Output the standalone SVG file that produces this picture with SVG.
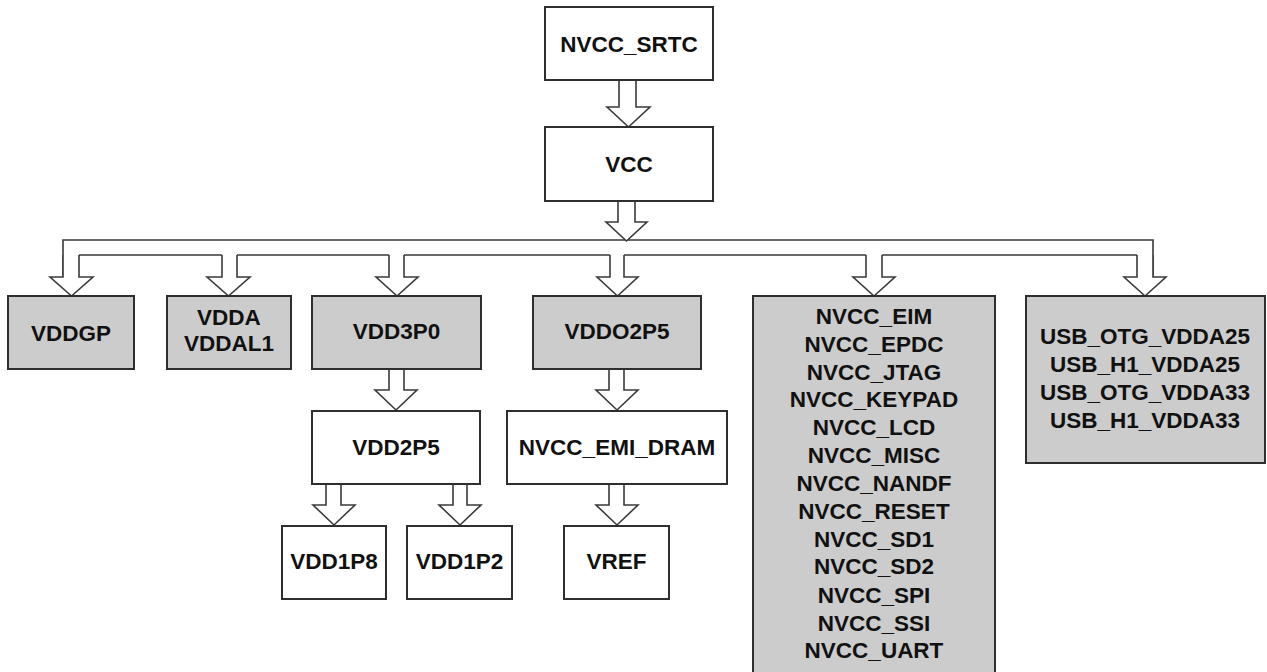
<svg xmlns="http://www.w3.org/2000/svg" width="1267" height="672" viewBox="0 0 1267 672">
<style>
.box{fill:#ffffff;stroke:#2e2e2e;stroke-width:2}
.gbox{fill:#cccccc;stroke:#2e2e2e;stroke-width:2}
.arr{fill:#ffffff;stroke:#3a3a3a;stroke-width:1.6;stroke-linejoin:miter}
.line{fill:none;stroke:#3a3a3a;stroke-width:1.6}
text{font-family:"Liberation Sans",Arial,sans-serif;font-weight:bold;font-size:22.5px;fill:#111;text-anchor:middle}
</style>
<rect width="1267" height="672" fill="#ffffff"/>
<g id="connectors">
<path class="arr" d="M63,278 V240 H1153 V278"/>
<path class="line" d="M79,255 H222 M237,255 H389 M404,255 H610 M624,255 H866 M882,255 H1137"/>
<path class="arr" d="M619,80 V107 H607 L628.5,127 L650,107 H636 V80"/>
<path class="arr" d="M618,201 V222 H606 L626.5,241 L647,222 H635 V201"/>
<path class="arr" d="M63,255 V277 H50 L71.5,296 L93,277 H79 V255"/>
<path class="arr" d="M222,255 V277 H207 L228.5,296 L250,277 H237 V255"/>
<path class="arr" d="M389,255 V277 H376 L397,296 L418,277 H404 V255"/>
<path class="arr" d="M610,255 V277 H597 L617.5,296 L638,277 H624 V255"/>
<path class="arr" d="M866,255 V277 H853 L874,296 L895,277 H882 V255"/>
<path class="arr" d="M1137,255 V277 H1124 L1145,296 L1166,277 H1153 V255"/>
<path class="arr" d="M389,369 V390 H375 L396,410 L417,390 H404 V369"/>
<path class="arr" d="M609,369 V390 H596 L617,410 L638,390 H624 V369"/>
<path class="arr" d="M326,484 V505 H313 L334,525 L355,505 H341 V484"/>
<path class="arr" d="M453,484 V505 H439 L460,525 L481,505 H467 V484"/>
<path class="arr" d="M609,484 V505 H596 L617,525 L638,505 H624 V484"/>
</g>
<g id="nvcc_srtc"><rect class="box" x="545" y="7" width="168" height="73"/><text x="629" y="51.5">NVCC_SRTC</text></g>
<g id="vcc"><rect class="box" x="545" y="127" width="168" height="74"/><text x="629" y="172">VCC</text></g>
<g id="vddgp"><rect class="gbox" x="8" y="296" width="126" height="73"/><text x="71" y="341">VDDGP</text></g>
<g id="vdda"><rect class="gbox" x="167" y="296" width="124" height="73"/><text x="229" y="325">VDDA</text><text x="229" y="351">VDDAL1</text></g>
<g id="vdd3p0"><rect class="gbox" x="312" y="296" width="169" height="73"/><text x="396.5" y="339">VDD3P0</text></g>
<g id="vddo2p5"><rect class="gbox" x="533" y="296" width="168" height="73"/><text x="617" y="339">VDDO2P5</text></g>
<g id="nvcc_group"><rect class="gbox" x="753" y="296" width="242" height="380"/>
<text x="874" y="324">NVCC_EIM</text>
<text x="874" y="352">NVCC_EPDC</text>
<text x="874" y="380">NVCC_JTAG</text>
<text x="874" y="407">NVCC_KEYPAD</text>
<text x="874" y="435">NVCC_LCD</text>
<text x="874" y="463">NVCC_MISC</text>
<text x="874" y="491">NVCC_NANDF</text>
<text x="874" y="519">NVCC_RESET</text>
<text x="874" y="547">NVCC_SD1</text>
<text x="874" y="574">NVCC_SD2</text>
<text x="874" y="603">NVCC_SPI</text>
<text x="874" y="631">NVCC_SSI</text>
<text x="874" y="658">NVCC_UART</text>
</g>
<g id="usb_group"><rect class="gbox" x="1026" y="296" width="239" height="167"/>
<text x="1145" y="344">USB_OTG_VDDA25</text>
<text x="1145" y="372">USB_H1_VDDA25</text>
<text x="1145" y="400">USB_OTG_VDDA33</text>
<text x="1145" y="428">USB_H1_VDDA33</text>
</g>
<g id="vdd2p5"><rect class="box" x="312" y="411" width="168" height="73"/><text x="396" y="455">VDD2P5</text></g>
<g id="nvcc_emi_dram"><rect class="box" x="507" y="411" width="220" height="73"/><text x="617" y="455">NVCC_EMI_DRAM</text></g>
<g id="vdd1p8"><rect class="box" x="282" y="526" width="104" height="73"/><text x="334" y="569">VDD1P8</text></g>
<g id="vdd1p2"><rect class="box" x="407" y="526" width="105" height="73"/><text x="459.5" y="569">VDD1P2</text></g>
<g id="vref"><rect class="box" x="564" y="526" width="105" height="73"/><text x="616.5" y="569">VREF</text></g>
</svg>
